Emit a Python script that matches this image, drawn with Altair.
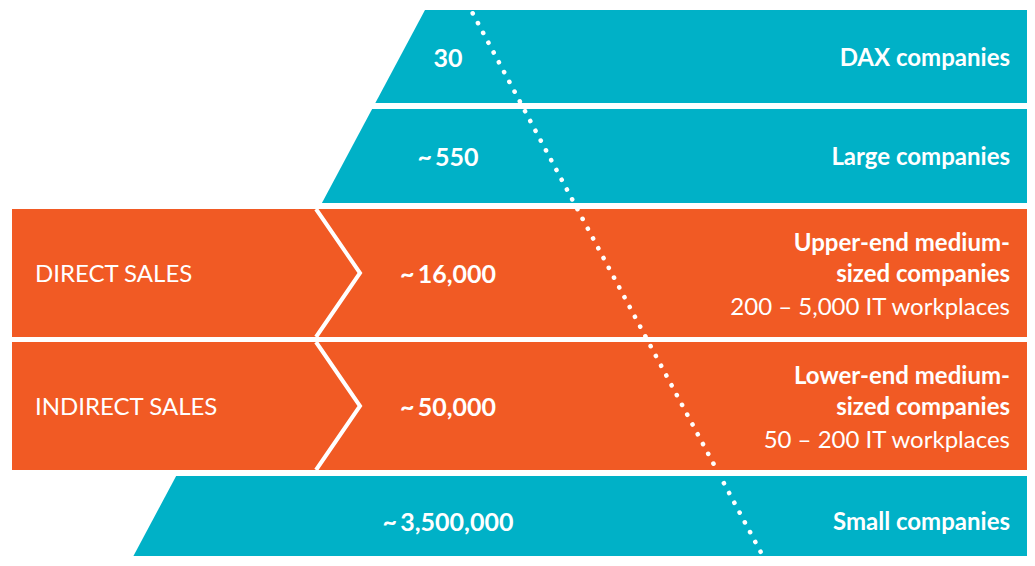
import altair as alt
import pandas as pd

# ---------------- data ----------------
segments = ["DAX companies", "Large companies", "Upper-end medium-sized companies",
            "Lower-end medium-sized companies", "Small companies"]
title_lines = [["DAX companies"], ["Large companies"],
               ["Upper-end medium-", "sized companies"],
               ["Lower-end medium-", "sized companies"],
               ["Small companies"]]
workplaces = ["", "", "200 – 5,000 IT workplaces", "50 – 200 IT workplaces", ""]
counts = [30, 550, 16000, 50000, 3500000]
count_labels = ["30", "~\u2009550", "~\u200916,000", "~\u200950,000", "~\u20093,500,000"]
sales_channel = ["", "", "DIRECT SALES", "INDIRECT SALES", ""]
group = ["company", "company", "sales", "sales", "company"]

# ---------------- layout / style ----------------
TEAL = "#00b1c7"
ORANGE = "#f15a24"
W, H = 1019, 548
X0, Y0 = 8, 8
band_top = [10, 109, 209, 342, 476]
band_bot = [103, 203, 337, 470, 580]
RIGHT = 1040
SALES_LEFT = 12


def slant_x(y):
    # slanted left edge of the teal pyramid
    return 425 - 0.534 * (y - 10)


FONT = "Lato"

# band polygons (trapezoids via horizontal areas)
rows = []
for i, seg in enumerate(segments):
    for y in (band_top[i], band_bot[i]):
        left = SALES_LEFT if group[i] == "sales" else slant_x(y)
        rows.append({"band": seg, "y": y, "x": left, "x2": RIGHT,
                     "color": ORANGE if group[i] == "sales" else TEAL})
bands_df = pd.DataFrame(rows)

# chevrons
chev = []
for i, seg in enumerate(segments):
    if group[i] == "sales":
        mid = (band_top[i] + band_bot[i]) / 2
        chev += [{"band": seg, "o": 0, "x": 316, "y": band_top[i]},
                 {"band": seg, "o": 1, "x": 360, "y": mid},
                 {"band": seg, "o": 2, "x": 316, "y": band_bot[i]}]
chev_df = pd.DataFrame(chev)

# dotted line
dots_df = pd.DataFrame([{"x": 472.7, "y": 13.3, "x2": 765.5, "y2": 561}])

# texts
num_rows, title_rows, wp_rows, sales_rows = [], [], [], []
for i, seg in enumerate(segments):
    bottom = min(band_bot[i], 566)
    mid = (band_top[i] + bottom) / 2 + 2
    num_rows.append({"x": 448, "y": mid, "t": count_labels[i], "v": counts[i]})
    if len(title_lines[i]) == 2:
        title_rows.append({"x": 1010, "y": mid - 31, "t": title_lines[i][0]})
        title_rows.append({"x": 1010, "y": mid, "t": title_lines[i][1]})
        wp_rows.append({"x": 1010, "y": mid + 33, "t": workplaces[i]})
    else:
        title_rows.append({"x": 1010, "y": mid, "t": title_lines[i][0]})
    if sales_channel[i]:
        sales_rows.append({"x": 35, "y": mid, "t": sales_channel[i]})

xs = alt.Scale(domain=[X0, X0 + W], nice=False, zero=False)
ys = alt.Scale(domain=[Y0, Y0 + H], nice=False, zero=False, reverse=True)


def X(f="x"):
    return alt.X(f"{f}:Q", scale=xs, axis=None)


def Y(f="y"):
    return alt.Y(f"{f}:Q", scale=ys, axis=None)


band_layer = alt.Chart(bands_df).mark_area(orient="horizontal", clip=True).encode(
    y=Y(), x=X(), x2="x2:Q", detail="band:N",
    color=alt.Color("color:N", scale=None))

chev_layer = alt.Chart(chev_df).mark_line(color="white", strokeWidth=4, clip=True,
                                          strokeJoin="miter").encode(
    x=X(), y=Y(), detail="band:N", order="o:Q")

dot_layer = alt.Chart(dots_df).mark_rule(color="white", strokeWidth=4.6, strokeCap="round",
                                         strokeDash=[0.1, 11], clip=True).encode(
    x=X(), y=Y(), x2="x2:Q", y2="y2:Q")

num_layer = alt.Chart(pd.DataFrame(num_rows)).mark_text(
    font=FONT, fontSize=25, fontWeight="bold", color="white", align="center",
    baseline="middle").encode(x=X(), y=Y(), text="t:N")

title_layer = alt.Chart(pd.DataFrame(title_rows)).mark_text(
    font=FONT, fontSize=24, fontWeight="bold", color="white", align="right",
    baseline="middle").encode(x=X(), y=Y(), text="t:N")

wp_layer = alt.Chart(pd.DataFrame(wp_rows)).mark_text(
    font=FONT, fontSize=24, color="white", align="right",
    baseline="middle").encode(x=X(), y=Y(), text="t:N")

sales_layer = alt.Chart(pd.DataFrame(sales_rows)).mark_text(
    font=FONT, fontSize=24, color="white", align="left",
    baseline="middle").encode(x=X(), y=Y(), text="t:N")

chart = alt.layer(band_layer, chev_layer, dot_layer, num_layer, title_layer,
                  wp_layer, sales_layer).properties(
    width=W, height=H, padding=0, background="white"
).configure_view(stroke=None)

chart.save("out.html", embed_options={"renderer": "svg", "actions": False})
